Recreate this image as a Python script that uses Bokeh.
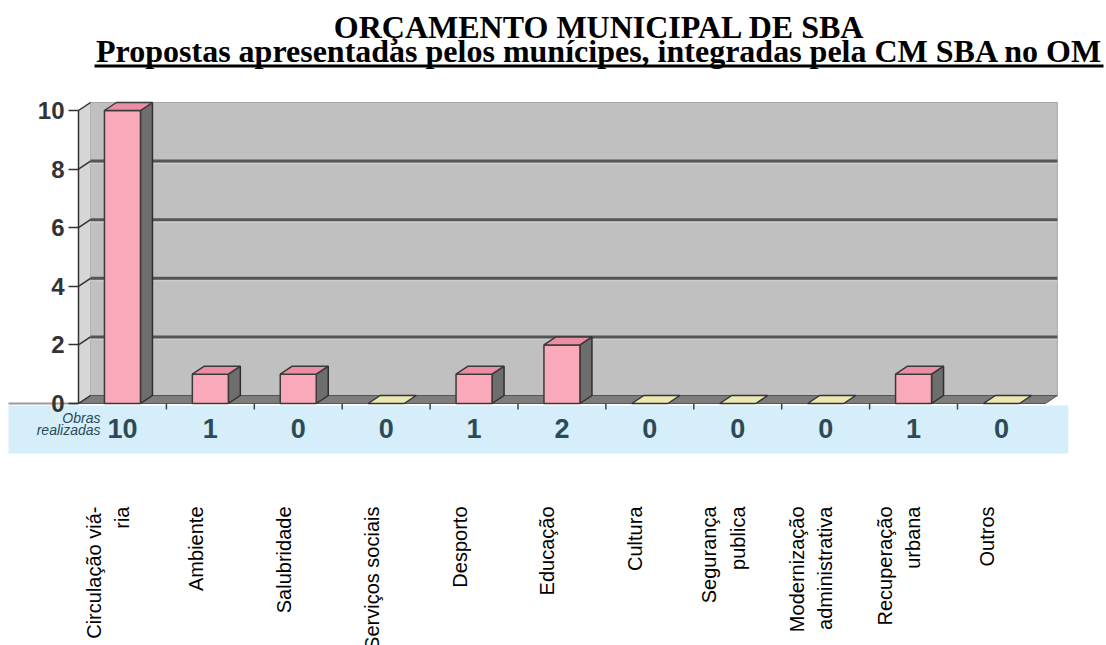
import numpy as np
from bokeh.plotting import figure
from bokeh.models import ColumnDataSource, Range1d, LinearAxis, FixedTicker
from bokeh.embed import file_html
from bokeh.resources import INLINE
from bokeh.core.properties import value

# ---------------- data ----------------
title_line1 = "ORÇAMENTO MUNICIPAL DE SBA"
title_line2 = "Propostas apresentadas pelos munícipes, integradas pela CM SBA no OM"
categories = ["Circulação viá-\nria", "Ambiente", "Salubridade", "Serviços sociais",
              "Desporto", "Educação", "Cultura", "Segurança\npublica",
              "Modernização\nadministrativa", "Recuperação\nurbana", "Outros"]
bar_values = [10, 1, 1, 0, 1, 2, 0, 0, 0, 1, 0]
table_values = [10, 1, 0, 0, 1, 2, 0, 0, 0, 1, 0]
table_row_label = "Obras\nrealizadas"
y_ticks = [0, 2, 4, 6, 8, 10]

# ---------------- layout constants ----------------
FIG_W, FIG_H = 1106, 645
PXX, PXY = 87.9, 29.3          # pixels per category / per unit
AXIS_X, ZERO_Y = 78, 403       # screen position of front-left axis and of value 0
n = len(categories)
idx = np.arange(n)
left, right = -0.5, n - 0.5
x_start = left - AXIS_X / PXX
x_end = x_start + FIG_W / PXX
y_end = ZERO_Y / PXY
y_start = y_end - FIG_H / PXY
DX, DY = 12 / PXX, 8 / PXY      # 3D depth offset
HW = 18 / PXX                   # half bar width
y_max = max(y_ticks)


def sx(px):  # screen x -> data x
    return x_start + px / PXX


def sy(py):  # screen y -> data y
    return y_end - py / PXY


p = figure(width=FIG_W, height=FIG_H, x_range=Range1d(x_start, x_end),
           y_range=Range1d(y_start, y_end), x_axis_type=None, y_axis_type=None,
           min_border=0, output_backend="svg", toolbar_location=None)
p.outline_line_color = None
p.background_fill_color = "white"
p.border_fill_color = "white"

# titles
p.text(x=[sx(599)], y=[sy(26)], text=[title_line1],
       text_font=value("Liberation Serif"), text_font_style="bold", text_font_size="32px",
       text_color="#000000", text_align="center", text_baseline="alphabetic")
p.text(x=[sx(599)], y=[sy(50)], text=[title_line2],
       text_font=value("Liberation Serif"), text_font_style="bold", text_font_size="32px",
       text_color="#000000", text_align="center", text_baseline="alphabetic")
p.segment(x0=[sx(94)], x1=[sx(1103)], y0=[sy(65.5)], y1=[sy(65.5)],
          line_color="#000000", line_width=3)

# data table band
p.quad(left=[sx(8)], right=[right + DX + 11 / PXX], top=[-2 / PXY], bottom=[-50 / PXY],
       fill_color="#d5eef9", line_color=None)
p.segment(x0=[sx(8)], x1=[left], y0=[0], y1=[0], line_color="#9a9a9a", line_width=2)

# back wall, side wall, floor
p.quad(left=[left + DX], right=[right + DX], bottom=[DY], top=[y_max + DY],
       fill_color="#c0c0c0", line_color="#a9a9a9", line_width=1)
p.patch([left, left, left + DX, left + DX], [0, y_max, y_max + DY, DY],
        fill_color="#d6d6d6", line_color="#b5b5b5")
p.patch([left, right, right + DX, left + DX], [0, 0, DY, DY],
        fill_color="#7d7d7d", line_color="#555555")

# grid lines on back wall
gt = np.array(y_ticks[1:-1], dtype=float)
p.segment(x0=np.full(len(gt), left + DX), x1=np.full(len(gt), right + DX),
          y0=gt + DY, y1=gt + DY, line_color="#555555", line_width=3)
p.segment(x0=np.full(len(gt), left + DX), x1=np.full(len(gt), right + DX),
          y0=gt + DY - 2.5 / PXY, y1=gt + DY - 2.5 / PXY, line_color="#d0d0d0", line_width=1)
# connectors from axis to wall
at = np.array(y_ticks, dtype=float)
p.segment(x0=np.full(len(at), left), x1=np.full(len(at), left + DX),
          y0=at, y1=at + DY, line_color="#333333", line_width=1.5)

# floor ticks at category boundaries
bnd = idx[1:] - 0.5
p.segment(x0=bnd, x1=bnd, y0=np.zeros(len(bnd)), y1=np.full(len(bnd), -6 / PXY),
          line_color="#444444", line_width=1.5)

# bars
vals = np.array(bar_values, dtype=float)
pos = vals > 0
bl = idx - HW
br = idx + HW
front = ColumnDataSource(dict(left=bl[pos], right=br[pos], top=vals[pos],
                              bottom=np.zeros(pos.sum())))
side_xs = [[r, r, r + DX, r + DX] for r in br[pos]]
side_ys = [[0, v, v + DY, DY] for v in vals[pos]]
top_xs = [[l, r, r + DX, l + DX] for l, r in zip(bl[pos], br[pos])]
top_ys = [[v, v, v + DY, v + DY] for v in vals[pos]]
p.patches(side_xs, side_ys, fill_color="#6e6e6e", line_color="#2e2e2e", line_width=1.5)
p.quad(source=front, left="left", right="right", top="top", bottom="bottom",
       fill_color="#f9a9ba", line_color="#3a3a3a", line_width=1.5)
p.patches(top_xs, top_ys, fill_color="#e98ea4", line_color="#3a3a3a", line_width=1.5)

# zero-value slabs
zero = ~pos
slab_xs = [[l, r, r + DX, l + DX] for l, r in zip(bl[zero], br[zero])]
slab_ys = [[0, 0, DY, DY] for _ in range(zero.sum())]
p.patches(slab_xs, slab_ys, fill_color="#ebe8b2", line_color="#333333", line_width=1.5)

# data table texts
p.text(x=idx, y=np.full(n, -25 / PXY), text=[str(v) for v in table_values],
       text_font=value("Liberation Sans"), text_font_style="bold",
       text_font_size="27px", text_color="#2c4a58",
       text_align="center", text_baseline="middle")
p.text(x=[left + 22 / PXX], y=[-20 / PXY], text=[table_row_label],
       text_font=value("Liberation Sans"), text_font_style="italic",
       text_font_size="14px", text_color="#2c4a58", text_line_height=0.75,
       text_align="right", text_baseline="middle")

# category labels (rotated)
p.text(x=idx - 0.165, y=np.full(n, -103 / PXY), text=categories, angle=np.pi / 2,
       text_font=value("Liberation Sans"), text_font_size="20px", text_color="#000000",
       text_align="right", text_baseline="middle", text_line_height=1.3)

# y axis
ax = LinearAxis(fixed_location=left, bounds=(0, y_max), ticker=FixedTicker(ticks=y_ticks))
ax.major_label_text_font = "Liberation Sans"
ax.major_label_text_font_style = "bold"
ax.major_label_text_font_size = "24px"
ax.major_label_text_color = "#333333"
ax.major_tick_out = 10
ax.major_tick_in = 0
ax.minor_tick_out = 0
ax.minor_tick_in = 0
ax.major_tick_line_color = "#333333"
ax.major_tick_line_width = 1.5
ax.axis_line_color = "#333333"
ax.axis_line_width = 1.5
ax.major_label_standoff = 4
p.add_layout(ax, "left")

open("out.html", "w").write(file_html(p, INLINE))
